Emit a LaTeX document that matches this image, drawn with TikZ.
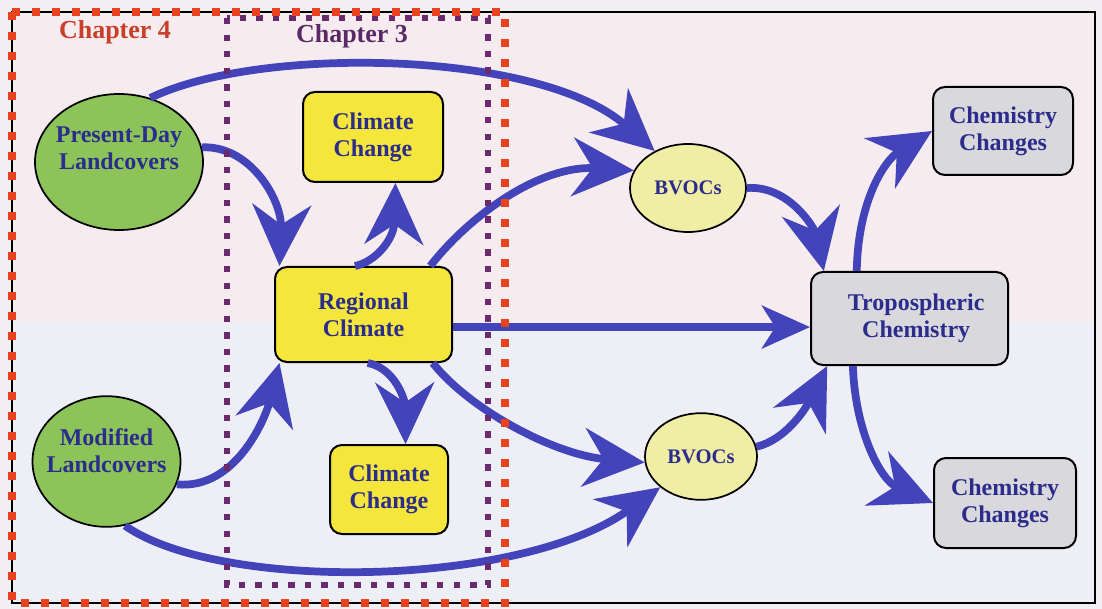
\documentclass[tikz,border=0pt]{standalone}
\usepackage{fontspec}
\setmainfont{Liberation Serif}
\usetikzlibrary{arrows.meta,shapes.geometric}

\definecolor{bgout}{HTML}{F1EFF1}
\definecolor{bgtop}{HTML}{F6ECF0}
\definecolor{bgbot}{HTML}{EEEEF7}
\definecolor{ink}{HTML}{2C2C8C}
\definecolor{flowblue}{HTML}{4343BA}
\definecolor{landgreen}{HTML}{8CC45A}
\definecolor{bvocfill}{HTML}{F0EDA4}
\definecolor{boxyellow}{HTML}{F4E63A}
\definecolor{boxgray}{HTML}{D9D9DD}
\definecolor{chapred}{HTML}{C8402A}
\definecolor{chappurple}{HTML}{5A2A66}
\definecolor{dotred}{HTML}{E8431E}
\definecolor{dotpurple}{HTML}{6A2A6E}

\tikzset{
  txt/.style={font=\bfseries\fontsize{18}{20}\selectfont, text=ink, align=center},
  land/.style={txt, ellipse, draw=black, line width=1.3pt, fill=landgreen,
               inner xsep=-30pt, inner ysep=-30pt},
  bvoc/.style={txt, ellipse, draw=black, line width=1.3pt, fill=bvocfill, inner sep=0pt,
               font=\bfseries\fontsize{15.5}{18}\selectfont},
  ybox/.style={txt, rectangle, rounded corners=9pt, draw=black, line width=1.5pt,
               fill=boxyellow, inner sep=0pt},
  gbox/.style={ybox, fill=boxgray},
  flow/.style={draw=flowblue, line width=5.8pt,
               -{Stealth[length=46pt,width=44pt,inset=15pt]}},
  flatflow/.style={flow, -{Stealth[length=36pt,width=32pt,inset=10pt]}},
  chap/.style={font=\bfseries\fontsize{19.5}{22}\selectfont},
  reddots/.style={draw=dotred, line width=6pt, dash pattern=on 6pt off 9pt},
  purpledots/.style={draw=dotpurple, line width=4.8pt, dash pattern=on 4.8pt off 7.6pt},
}

\begin{document}
\begin{tikzpicture}[x=0.75pt,y=-0.75pt]
  \useasboundingbox (0,0) rectangle (1102,609);

  % background panels and frame
  \fill[bgout] (0,0) rectangle (1102,609);
  \fill[bgtop] (12,12) rectangle (1095,322);
  \fill[bgbot] (12,322) rectangle (1095,603);
  \draw[line width=0.9pt] (12,12) rectangle (1095,603);

  % landcover inputs (labels sit a little above the centre)
  \node[land, minimum width=126pt, minimum height=102pt, text depth=21pt] (pd) at (119,162) {Present-Day\\Landcovers};
  \node[land, minimum width=111pt, minimum height=98pt, text depth=16pt] (md) at (106.5,461.5) {Modified\\Landcovers};

  % climate boxes
  \node[ybox, minimum width=105pt, minimum height=67.5pt] (cc1) at (373,137) {Climate\\Change};
  \node[ybox, minimum width=132.75pt, minimum height=71.25pt] (rc) at (363.5,314.5) {Regional\\Climate};
  \node[ybox, minimum width=88.5pt, minimum height=66.75pt] (cc2) at (389,489.5) {Climate\\Change};

  % emissions
  \node[bvoc, minimum width=87pt, minimum height=66pt] (bv1) at (688,188) {BVOCs};
  \node[bvoc, minimum width=84pt, minimum height=65pt] (bv2) at (701,456.5) {BVOCs};

  % chemistry
  \node[gbox, minimum width=147.75pt, minimum height=69.75pt] (tc) at (909.5,318.5) {\hspace*{10pt}Tropospheric\\\hspace*{10pt}Chemistry};
  \node[gbox, minimum width=105pt, minimum height=66pt] (ch1) at (1003,131) {Chemistry\\Changes};
  \node[gbox, minimum width=106.5pt, minimum height=67.5pt] (ch2) at (1005,503) {Chemistry\\Changes};

  % flows
  \draw[flow] (pd.64) .. controls (260,45) and (540,50) .. (bv1.132);
  \draw[flow] (pd.10) .. controls (250,145) and (282,200) .. (rc.150);
  \draw[flow] (rc.100) .. controls (375,262) and (394,240) .. (cc1.-64);
  \draw[flow] (rc.36) .. controls (470,215) and (540,165) .. (bv1.162);
  \draw[flatflow] (rc.-8) -- (rc.-8 -| tc.west);
  \draw[flow] (rc.-85) .. controls (395,368) and (405,400) .. (cc2.70);
  \draw[flow] (rc.-35) .. controls (470,410) and (555,455) .. (bv2.186);
  \draw[flow] (md.-18) .. controls (235,490) and (265,420) .. (rc.210);
  \draw[flow] (md.-74) .. controls (220,592) and (520,588) .. (bv2.217);
  \draw[flow] (bv1.0) .. controls (790,185) and (815,230) .. (tc.151);
  \draw[flow] (bv2.10) .. controls (785,440) and (805,410) .. (tc.210);
  \draw[flow] (tc.138) .. controls (858,200) and (885,160) .. (ch1.west);
  \draw[flow] (tc.220) .. controls (855,430) and (880,480) .. (ch2.west);

  % chapter outlines
  \draw[purpledots] (227,18) rectangle (488,585);
  \draw[reddots] (12,12) rectangle (505,603);

  \node[chap, text=chapred] (ch4) at (115,32) {Chapter 4};
  \node[chap, text=chappurple] (ch3) at (352,36) {Chapter 3};
\end{tikzpicture}
\end{document}
